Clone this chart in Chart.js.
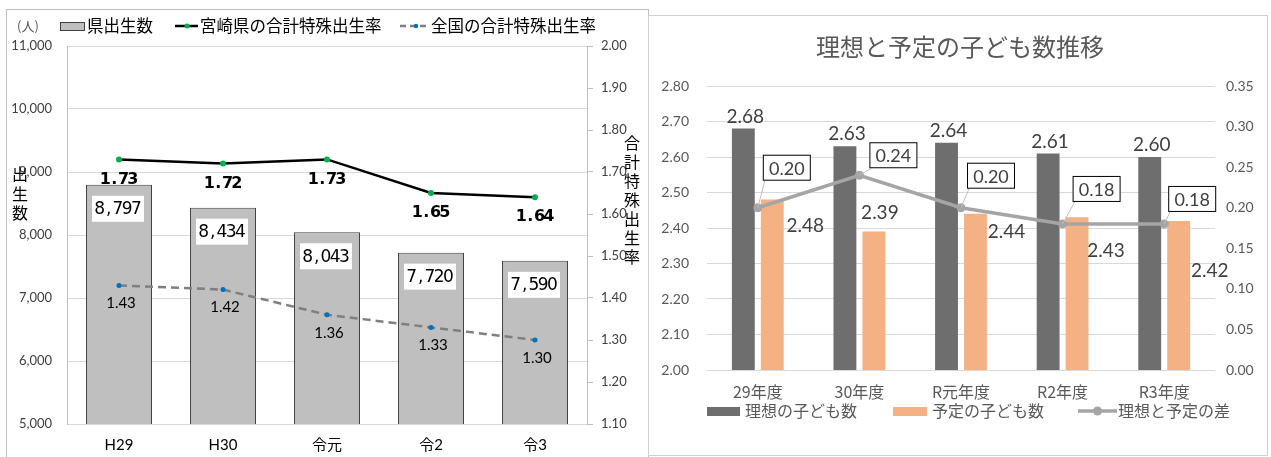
<!DOCTYPE html>
<html>
<head>
<meta charset="utf-8">
<script src="https://cdn.jsdelivr.net/npm/chart.js@4.4.0/dist/chart.umd.min.js"></script>
<style>
  body { margin: 0; background: #fff; width: 1271px; height: 457px; overflow: hidden; position: relative; }
  #birthBox { position: absolute; left: 6px; top: 9px; width: 641px; height: 448px; border: 1px solid #bfbfbf; border-bottom: none; }
  #childBox { position: absolute; left: 648px; top: 15px; width: 618px; height: 439px; border: 1px solid #d0d0d0; }
  canvas { display: block; }
</style>
</head>
<body>
<div id="birthBox"><canvas id="birthChart" width="641" height="447"></canvas></div>
<div id="childBox"><canvas id="childChart" width="618" height="439"></canvas></div>
<script>
// 出生数と合計特殊出生率
const birthYears = ['H29', 'H30', '令元', '令2', '令3'];
const birthCounts = [8797, 8434, 8043, 7720, 7590];
const miyazakiRate = [1.73, 1.72, 1.73, 1.65, 1.64];
const nationalRate = [1.43, 1.42, 1.36, 1.33, 1.30];

// 理想と予定の子ども数
const surveyYears = ['29年度', '30年度', 'R元年度', 'R2年度', 'R3年度'];
const idealChildren = [2.68, 2.63, 2.64, 2.61, 2.60];
const plannedChildren = [2.48, 2.39, 2.44, 2.43, 2.42];
const childGap = [0.20, 0.24, 0.20, 0.18, 0.18];

Chart.defaults.font.family = "Lato, 'Noto Sans CJK JP', sans-serif";
Chart.defaults.animation = false;

const JP = "'Noto Sans CJK JP', sans-serif";

// 等幅っぽく1文字ずつ並べる
function drawSpaced(ctx, text, cx, cy, step) {
  const start = cx - step * text.length / 2 + step / 2;
  for (let i = 0; i < text.length; i++) {
    ctx.fillText(text[i], start + i * step, cy);
  }
}

function drawVertical(ctx, text, x, y, step) {
  for (let i = 0; i < text.length; i++) {
    ctx.fillText(text[i], x, y + i * step);
  }
}

const birthDecor = {
  id: 'birthDecor',
  afterDatasetsDraw(chart) {
    const ctx = chart.ctx;
    ctx.save();
    ctx.textAlign = 'center';
    ctx.textBaseline = 'middle';

    // 棒の数値
    chart.getDatasetMeta(0).data.forEach((bar, i) => {
      const y = bar.y + 24;
      ctx.fillStyle = '#fff';
      ctx.fillRect(bar.x - 27, y - 13, 52, 26);
      ctx.fillStyle = '#000';
      ctx.font = "17px 'DejaVu Sans'";
      drawSpaced(ctx, birthCounts[i].toLocaleString('en-US'), bar.x - 1, y + 1, 9.2);
    });

    // 宮崎県
    ctx.font = "bold 16px 'DejaVu Sans'";
    ctx.fillStyle = '#000';
    chart.getDatasetMeta(1).data.forEach((pt, i) => {
      drawSpaced(ctx, miyazakiRate[i].toFixed(2), pt.x, pt.y + 20, 9.2);
    });

    // 全国
    ctx.font = '15px Lato';
    chart.getDatasetMeta(2).data.forEach((pt, i) => {
      ctx.fillText(nationalRate[i].toFixed(2), pt.x + 2, pt.y + 18);
    });
    ctx.restore();
  },
  afterDraw(chart) {
    const ctx = chart.ctx;
    ctx.save();
    ctx.textBaseline = 'middle';

    // 凡例
    const ly = 16;
    ctx.fillStyle = '#595959';
    ctx.font = '13px ' + JP;
    ctx.textAlign = 'left';
    ctx.fillText('(人)', 10, ly);

    ctx.fillStyle = '#bfbfbf';
    ctx.fillRect(53, ly - 4, 25, 9);
    ctx.strokeStyle = '#404040';
    ctx.lineWidth = 1;
    ctx.strokeRect(53.5, ly - 3.5, 24, 8);
    ctx.fillStyle = '#000';
    ctx.font = '16.5px ' + JP;
    ctx.fillText('県出生数', 80, ly);

    ctx.strokeStyle = '#000';
    ctx.lineWidth = 2.5;
    ctx.beginPath(); ctx.moveTo(168, ly); ctx.lineTo(191, ly); ctx.stroke();
    ctx.fillStyle = '#00b050';
    ctx.beginPath(); ctx.arc(180, ly, 2.5, 0, Math.PI * 2); ctx.fill();
    ctx.fillStyle = '#000';
    ctx.fillText('宮崎県の合計特殊出生率', 193, ly);

    ctx.strokeStyle = '#7f7f7f';
    ctx.setLineDash([6, 4]);
    ctx.beginPath(); ctx.moveTo(393, ly); ctx.lineTo(423, ly); ctx.stroke();
    ctx.setLineDash([]);
    ctx.fillStyle = '#0070c0';
    ctx.beginPath(); ctx.arc(409, ly, 2.2, 0, Math.PI * 2); ctx.fill();
    ctx.fillStyle = '#000';
    ctx.fillText('全国の合計特殊出生率', 424, ly);

    // 軸タイトル（縦書き）
    ctx.textAlign = 'center';
    ctx.font = '16px ' + JP;
    drawVertical(ctx, '出生数', 13, 164, 19.5);
    drawVertical(ctx, '合計特殊出生率', 625, 133, 19);
    ctx.restore();
  }
};

new Chart(document.getElementById('birthChart'), {
  type: 'bar',
  data: {
    labels: birthYears,
    datasets: [
      {
        label: '県出生数',
        data: birthCounts,
        backgroundColor: '#bfbfbf',
        borderColor: '#404040',
        borderWidth: 1,
        barPercentage: 0.635,
        categoryPercentage: 1,
        yAxisID: 'y',
        order: 2
      },
      {
        type: 'line',
        label: '宮崎県の合計特殊出生率',
        data: miyazakiRate,
        borderColor: '#000',
        borderWidth: 2.5,
        pointRadius: 3,
        pointBackgroundColor: '#00b050',
        pointBorderWidth: 0,
        yAxisID: 'y1',
        order: 1
      },
      {
        type: 'line',
        label: '全国の合計特殊出生率',
        data: nationalRate,
        borderColor: '#7f7f7f',
        borderWidth: 2.5,
        borderDash: [8, 5],
        pointRadius: 2.5,
        pointBackgroundColor: '#0070c0',
        pointBorderWidth: 0,
        yAxisID: 'y1',
        order: 0
      }
    ]
  },
  options: {
    responsive: false,
    layout: { padding: { top: 36, left: 0, right: 0, bottom: 0 } },
    plugins: { legend: { display: false }, tooltip: { enabled: false } },
    scales: {
      x: {
        grid: { display: false, drawTicks: false },
        border: { display: false },
        ticks: { color: '#000', font: { size: 15 }, padding: 12 },
        afterFit(scale) { scale.height = 33; }
      },
      y: {
        position: 'left',
        min: 5000,
        max: 11000,
        ticks: {
          stepSize: 1000,
          color: '#404040',
          font: { size: 13 },
          padding: 15,
          callback: v => v.toLocaleString('en-US')
        },
        grid: { color: '#d9d9d9', drawTicks: false },
        border: { color: '#bfbfbf' },
        afterFit(scale) { scale.width = 60; }
      },
      y1: {
        position: 'right',
        min: 1.1,
        max: 2.0,
        ticks: {
          count: 10,
          color: '#404040',
          font: { size: 13 },
          padding: 8,
          callback: v => v.toFixed(2)
        },
        grid: { drawOnChartArea: false, drawTicks: true, tickLength: 6, tickColor: '#bfbfbf' },
        border: { color: '#bfbfbf' },
        afterFit(scale) { scale.width = 61; }
      }
    }
  },
  plugins: [birthDecor]
});

// 予定の子ども数ラベルと差の吹き出しの位置調整
const planNudge = [[33, 26], [6, -19], [31, 18], [29, 34], [31, 50]];
const gapNudge = [[29, -40], [34, -20], [30, -32], [34, -35], [28, -25]];

const childDecor = {
  id: 'childDecor',
  afterDatasetsDraw(chart) {
    const ctx = chart.ctx;
    ctx.save();
    ctx.textAlign = 'center';
    ctx.textBaseline = 'middle';
    ctx.fillStyle = '#404040';
    ctx.font = '19px Lato';

    chart.getDatasetMeta(0).data.forEach((bar, i) => {
      ctx.fillText(idealChildren[i].toFixed(2), bar.x + 2, bar.y - 12);
    });
    chart.getDatasetMeta(1).data.forEach((bar, i) => {
      ctx.fillText(plannedChildren[i].toFixed(2), bar.x + planNudge[i][0], bar.y + planNudge[i][1]);
    });

    chart.getDatasetMeta(2).data.forEach((pt, i) => {
      const bx = pt.x + gapNudge[i][0];
      const by = pt.y + gapNudge[i][1];
      // 引き出し線
      ctx.strokeStyle = '#bfbfbf';
      ctx.lineWidth = 1;
      ctx.beginPath();
      ctx.moveTo(pt.x, pt.y);
      ctx.lineTo(bx - 22, by + 13);
      ctx.stroke();

      ctx.fillStyle = '#fff';
      ctx.fillRect(bx - 24, by - 13, 48, 26);
      ctx.strokeStyle = '#000';
      ctx.strokeRect(bx - 23.5, by - 12.5, 47, 25);
      ctx.fillStyle = '#404040';
      ctx.font = '18px Lato';
      ctx.fillText(childGap[i].toFixed(2), bx, by + 1);
    });
    ctx.restore();
  },
  afterDraw(chart) {
    const ctx = chart.ctx;
    ctx.save();
    ctx.textBaseline = 'middle';

    // タイトル
    ctx.textAlign = 'center';
    ctx.fillStyle = '#595959';
    ctx.font = '24px ' + JP;
    ctx.fillText('理想と予定の子ども数推移', 311, 31);

    // 凡例
    const ly = 395;
    ctx.textAlign = 'left';
    ctx.font = '16px ' + JP;
    ctx.fillStyle = '#6e6e6e';
    ctx.fillRect(58, ly - 4, 33, 9);
    ctx.fillStyle = '#595959';
    ctx.fillText('理想の子ども数', 96, ly);

    ctx.fillStyle = '#f4b183';
    ctx.fillRect(244, ly - 4, 34, 9);
    ctx.fillStyle = '#595959';
    ctx.fillText('予定の子ども数', 283, ly);

    ctx.strokeStyle = '#a5a5a5';
    ctx.lineWidth = 3.5;
    ctx.beginPath(); ctx.moveTo(429, ly); ctx.lineTo(468, ly); ctx.stroke();
    ctx.fillStyle = '#a5a5a5';
    ctx.beginPath(); ctx.arc(448.5, ly, 4.5, 0, Math.PI * 2); ctx.fill();
    ctx.fillStyle = '#595959';
    ctx.fillText('理想と予定の差', 469, ly);
    ctx.restore();
  }
};

new Chart(document.getElementById('childChart'), {
  type: 'bar',
  data: {
    labels: surveyYears,
    datasets: [
      {
        label: '理想の子ども数',
        data: idealChildren,
        backgroundColor: '#6e6e6e',
        barPercentage: 0.79,
        categoryPercentage: 0.57,
        yAxisID: 'y',
        order: 1
      },
      {
        label: '予定の子ども数',
        data: plannedChildren,
        backgroundColor: '#f4b183',
        barPercentage: 0.79,
        categoryPercentage: 0.57,
        yAxisID: 'y',
        order: 1
      },
      {
        type: 'line',
        label: '理想と予定の差',
        data: childGap,
        borderColor: '#a5a5a5',
        borderWidth: 3.5,
        pointRadius: 4.5,
        pointBackgroundColor: '#a5a5a5',
        pointBorderWidth: 0,
        yAxisID: 'y1',
        order: 0
      }
    ]
  },
  options: {
    responsive: false,
    layout: { padding: { top: 70, left: 0, right: 0, bottom: 0 } },
    plugins: { legend: { display: false }, tooltip: { enabled: false } },
    scales: {
      x: {
        grid: { display: false, drawTicks: false },
        border: { display: false },
        ticks: { color: '#595959', font: { size: 16, family: JP }, padding: 12 },
        afterFit(scale) { scale.height = 85; }
      },
      y: {
        position: 'left',
        min: 2.0,
        max: 2.8,
        ticks: {
          count: 9,
          color: '#595959',
          font: { size: 14 },
          padding: 18,
          callback: v => v.toFixed(2)
        },
        grid: { color: '#d9d9d9', drawTicks: false },
        border: { display: false },
        afterFit(scale) { scale.width = 58; }
      },
      y1: {
        position: 'right',
        min: 0,
        max: 0.35,
        ticks: {
          count: 8,
          color: '#595959',
          font: { size: 14 },
          padding: 11,
          callback: v => v.toFixed(2)
        },
        grid: { drawOnChartArea: false, drawTicks: false },
        border: { display: false },
        afterFit(scale) { scale.width = 52; }
      }
    }
  },
  plugins: [childDecor]
});
</script>
</body>
</html>
